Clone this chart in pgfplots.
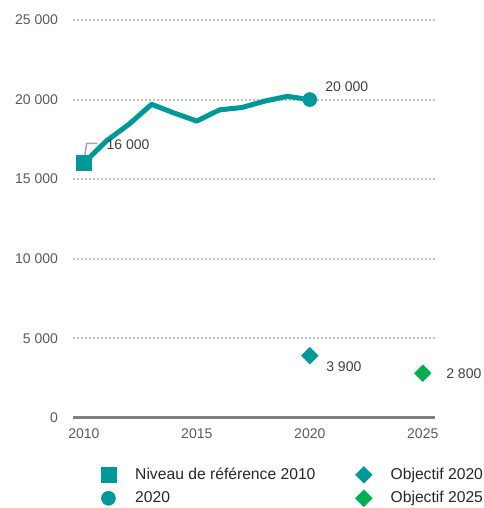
\documentclass[border=0pt]{standalone}
\usepackage{pgfplots}
\pgfplotsset{compat=1.18}
\usepackage{fontspec}
\setmainfont{Liberation Sans}
\definecolor{tealc}{RGB}{0,153,153}
\definecolor{greenc}{RGB}{0,176,80}
\definecolor{gridc}{RGB}{191,191,191}
\definecolor{axisc}{RGB}{128,128,128}
\definecolor{tickc}{RGB}{89,89,89}
\definecolor{labc}{RGB}{64,64,64}
\begin{document}
\begin{tikzpicture}
\path[use as bounding box] (-54.4pt,-67.7pt) rectangle (307.9pt,313.3pt);
\begin{axis}[
  scale only axis,
  width=271.5pt, height=298.3pt,
  xmin=2009.5, xmax=2025.52,
  ymin=0, ymax=25000,
  scaled y ticks=false, scaled x ticks=false,
  axis line style={draw=none},
  major tick length=0pt,
  xtick={2010,2015,2020,2025},
  xticklabels={2010,2015,2020,2025},
  ytick={0,5000,10000,15000,20000,25000},
  yticklabels={0,5 000,10 000,15 000,20 000,25 000},
  ymajorgrids,
  grid style={gridc, line width=1.5pt, dash pattern=on 1.5pt off 1.5pt},
  ticklabel style={font=\fontsize{10.5}{12}\selectfont, text=tickc},
  yticklabel style={xshift=-7.4pt},
  xticklabel style={yshift=-5pt},
  legend columns=2,
  legend style={draw=none, fill=none, at={(0.056,-0.1125)}, anchor=north west,
    font=\fontsize{11.75}{14}\selectfont, text=black!85,
    /tikz/every even column/.append style={column sep=25.75pt},
    row sep=3.5pt},
  legend cell align=left,
  legend image code/.code={\path[draw=none,fill=none] (0cm,-0.1cm) rectangle (0.935cm,0.1cm);
    \draw[#1] plot coordinates {(0.3cm,0cm)};},
  clip=false,
]
\addlegendimage{only marks, mark=square*, mark size=5.6pt, color=tealc}
\addlegendentry{Niveau de référence 2010}
\addlegendimage{only marks, mark=square*, mark size=4.4pt, mark options={rotate=45}, color=tealc}
\addlegendentry{Objectif 2020}
\addlegendimage{only marks, mark=*, mark size=5.25pt, color=tealc}
\addlegendentry{2020}
\addlegendimage{only marks, mark=square*, mark size=4.4pt, mark options={rotate=45}, color=greenc}
\addlegendentry{Objectif 2025}

\addplot[forget plot, color=tealc, line width=3.75pt, line join=round, mark=none] coordinates {
  (2010,16000) (2011,17400) (2012,18450) (2013,19700) (2014,19150) (2015,18650)
  (2016,19350) (2017,19500) (2018,19900) (2019,20200) (2020,20000)};
\draw[axisc!70, line width=1.1pt] (axis cs:2010,16000) -- (axis cs:2010.12,17250) -- (axis cs:2010.6,17250);
\addplot[forget plot, only marks, mark=square*, mark size=5.6pt, color=tealc] coordinates {(2010,16000)};
\addplot[forget plot, only marks, mark=*, mark size=5.25pt, color=tealc] coordinates {(2020,20000)};
\addplot[forget plot, only marks, mark=square*, mark size=4.4pt, mark options={rotate=45}, color=tealc] coordinates {(2020,3900)};
\addplot[forget plot, only marks, mark=square*, mark size=4.4pt, mark options={rotate=45}, color=greenc] coordinates {(2025,2800)};
\draw[axisc, line width=2.25pt] (axis cs:2009.5,0) -- (axis cs:2025.52,0);
\begin{scope}[every node/.style={font=\fontsize{10.5}{12}\selectfont, text=labc, anchor=west, inner sep=0pt}]
\node at (axis cs:2011.0,17150) {16 000};
\node at (axis cs:2020.68,20785) {20 000};
\node at (axis cs:2020.72,3187) {3 900};
\node at (axis cs:2026.03,2748) {2 800};
\end{scope}
\end{axis}
\end{tikzpicture}
\end{document}
